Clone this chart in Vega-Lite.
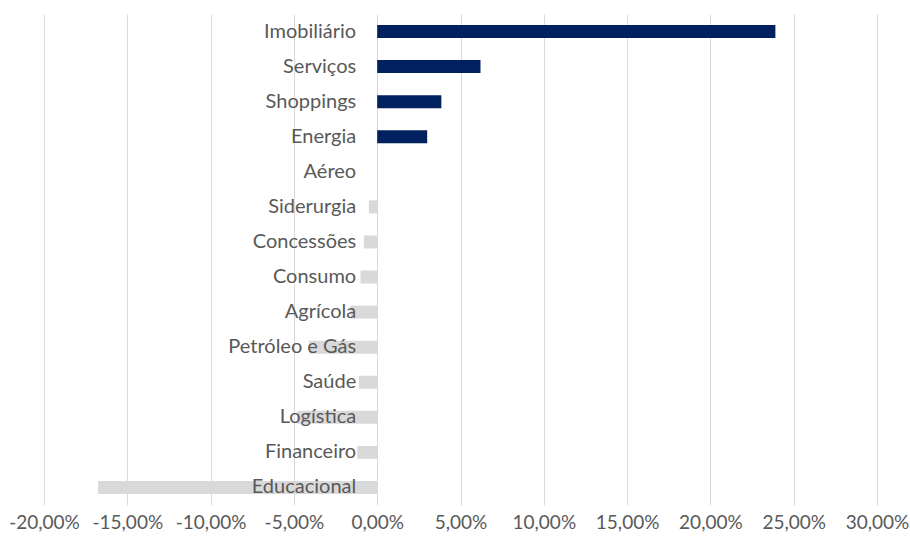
{
  "$schema": "https://vega.github.io/schema/vega-lite/v6.json",
  "width": 833,
  "height": 491,
  "autosize": {"type": "none"},
  "padding": {"left": 44, "top": 14, "right": 33, "bottom": 34},
  "background": "white",
  "config": {"view": {"stroke": null}, "font": "Lato"},
  "data": {
    "values": [
      {"setor": "Imobiliário", "valor": 0.239},
      {"setor": "Serviços", "valor": 0.062},
      {"setor": "Shoppings", "valor": 0.0385},
      {"setor": "Energia", "valor": 0.030},
      {"setor": "Aéreo", "valor": 0.0},
      {"setor": "Siderurgia", "valor": -0.005},
      {"setor": "Concessões", "valor": -0.008},
      {"setor": "Consumo", "valor": -0.010},
      {"setor": "Agrícola", "valor": -0.016},
      {"setor": "Petróleo e Gás", "valor": -0.041},
      {"setor": "Saúde", "valor": -0.011},
      {"setor": "Logística", "valor": -0.048},
      {"setor": "Financeiro", "valor": -0.012},
      {"setor": "Educacional", "valor": -0.1675}
    ]
  },
  "encoding": {
    "y": {
      "field": "setor",
      "type": "nominal",
      "sort": null,
      "axis": null,
      "scale": {"paddingInner": 0.63, "paddingOuter": 0.315}
    }
  },
  "layer": [
    {
      "mark": {"type": "bar"},
      "encoding": {
        "x": {
          "field": "valor",
          "type": "quantitative",
          "scale": {"domain": [-0.2, 0.3], "nice": false, "zero": false},
          "axis": {
            "values": [-0.2, -0.15, -0.1, -0.05, 0, 0.05, 0.1, 0.15, 0.2, 0.25, 0.3],
            "grid": true,
            "gridColor": "#D9D9D9",
            "gridWidth": 1,
            "domain": false,
            "ticks": false,
            "title": null,
            "labelFontSize": 19,
            "labelColor": "#595959",
            "labelPadding": 8,
            "labelFont": "Lato",
            "labelOverlap": false,
            "labelBound": false,
            "labelFlush": false,
            "labelExpr": "replace(replace(format(datum.value, '.2%'), '.', ','), '\u2212', '-')"
          }
        },
        "color": {
          "condition": {"test": "datum.valor > 0", "value": "#002060"},
          "value": "#D9D9D9"
        }
      }
    },
    {
      "mark": {
        "type": "text",
        "align": "right",
        "baseline": "middle",
        "dx": -21,
        "fontSize": 20,
        "color": "#595959",
        "font": "Lato"
      },
      "encoding": {
        "x": {"datum": 0},
        "text": {"field": "setor"}
      }
    }
  ]
}
